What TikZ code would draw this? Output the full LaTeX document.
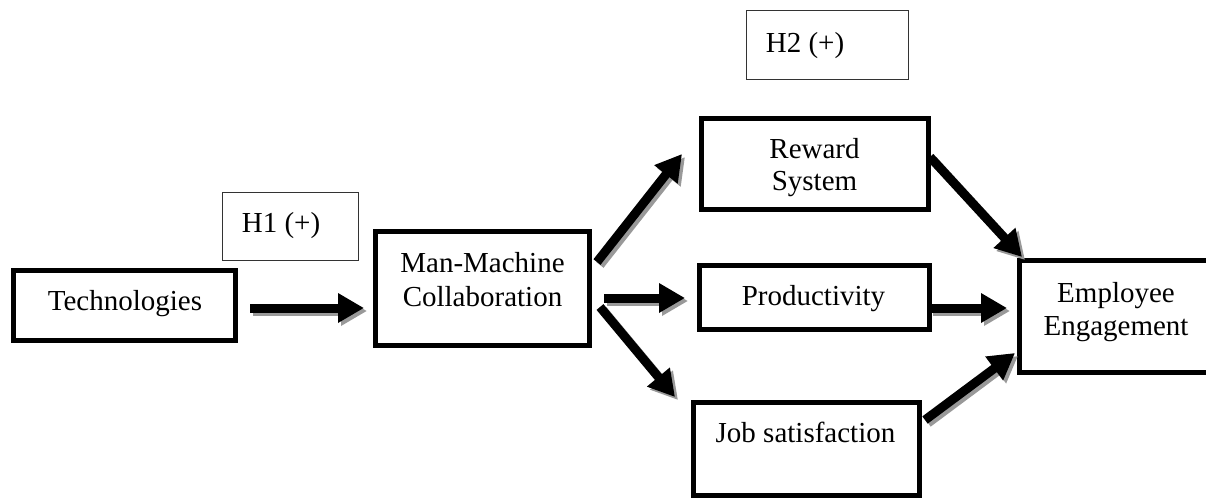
\documentclass[tikz,border=0pt]{standalone}
\usepackage{fontspec}
\setmainfont{Liberation Serif}
\usetikzlibrary{arrows.meta}
\tikzset{
  box/.style={draw=black, line width=5pt, inner sep=0pt, fill=white},
  hbox/.style={draw=black!80, line width=1.2pt, inner sep=0pt, fill=white},
  lbl/.style={inner sep=0pt, anchor=base, font=\fontsize{29}{34}\selectfont},
  flow/.style={line width=9pt, black, -{Triangle[length=26pt,width=28pt]}},
  flowshadow/.style={line width=9pt, black!40, -{Triangle[length=26pt,width=28pt]}}
}
\newcommand\shadowarrow[2]{%
  \draw[flowshadow] ([shift={(3,3)}]#1) -- ([shift={(3,3)}]#2);
  \draw[flow] (#1) -- (#2);}
\begin{document}
\begin{tikzpicture}[x=1pt,y=-1pt]
\useasboundingbox (0,0) rectangle (1206,499);
\clip (0,0) rectangle (1206,499);
% boxes
\node[hbox, minimum width=136pt, minimum height=68pt] (h1) at (290.5,226.5) {};
\node[hbox, minimum width=162pt, minimum height=69pt] (h2) at (827.5,45) {};
\node[box, minimum width=222pt, minimum height=70pt] (tech) at (124.5,305.5) {};
\node[box, minimum width=214pt, minimum height=114pt] (mm) at (482.5,288.5) {};
\node[box, minimum width=227pt, minimum height=91pt] (rew) at (815,164) {};
\node[box, minimum width=230pt, minimum height=64pt] (prod) at (814.5,297.5) {};
\node[box, minimum width=226pt, minimum height=93pt] (job) at (806.5,449) {};
\node[box, minimum width=193pt, minimum height=112pt] (ee) at (1116,316.5) {};
% labels
\node[lbl] (h1t) at (281,232) {H1 (+)};
\node[lbl] (h2t) at (805,52) {H2 (+)};
\node[lbl] (techt) at (125,310) {Technologies};
\node[lbl] (mmt1) at (482.5,272) {Man-Machine};
\node[lbl] (mmt2) at (482.5,306) {Collaboration};
\node[lbl] (rewt1) at (814.5,158) {Reward};
\node[lbl] (rewt2) at (814.5,190) {System};
\node[lbl] (prodt) at (813.5,305) {Productivity};
\node[lbl] (jobt) at (805.5,442) {Job satisfaction};
\node[lbl] (eet1) at (1116,302) {Employee};
\node[lbl] (eet2) at (1116,335) {Engagement};
% connector end points
\coordinate (t1) at (250,308); \coordinate (t2) at (364,308);
\coordinate (a1) at (597,262); \coordinate (a2) at (682,154);
\coordinate (b1) at (604,298); \coordinate (b2) at (685,298);
\coordinate (c1) at (600,307); \coordinate (c2) at (675,397);
\coordinate (d1) at (930,157); \coordinate (d2) at (1022,257);
\coordinate (e1) at (930,308); \coordinate (e2) at (1007,308);
\coordinate (f1) at (925,420); \coordinate (f2) at (1015,353);
% connectors
\shadowarrow{t1}{t2}
\shadowarrow{a1}{a2}
\shadowarrow{b1}{b2}
\shadowarrow{c1}{c2}
\shadowarrow{d1}{d2}
\shadowarrow{e1}{e2}
\shadowarrow{f1}{f2}
\end{tikzpicture}
\end{document}
